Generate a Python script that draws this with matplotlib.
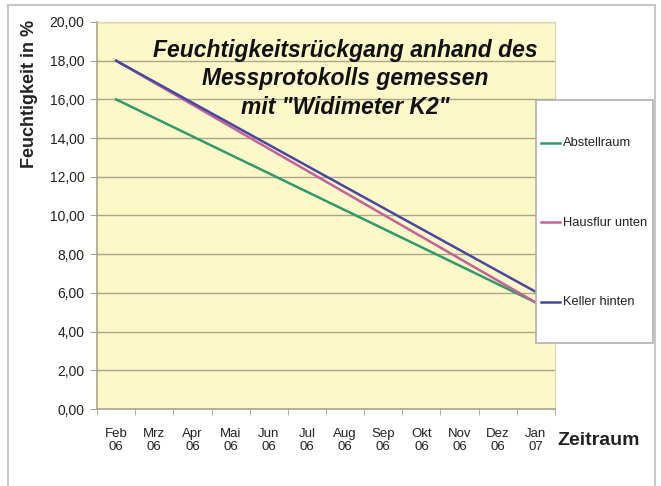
import numpy as np
import matplotlib.pyplot as plt
from matplotlib.patches import Rectangle
from matplotlib.lines import Line2D

plt.rcParams['font.family'] = ['Liberation Sans', 'DejaVu Sans']

# Daten (Messwerte nur am Anfang und Ende vorhanden)
monate = ["Feb\n06", "Mrz\n06", "Apr\n06", "Mai\n06", "Jun\n06", "Jul\n06",
          "Aug\n06", "Sep\n06", "Okt\n06", "Nov\n06", "Dez\n06", "Jan\n07"]
abstellraum = [16.0, None, None, None, None, None, None, None, None, None, None, 5.5]
hausflur = [18.0, None, None, None, None, None, None, None, None, None, None, 5.5]
keller = [18.0, None, None, None, None, None, None, None, None, None, None, 6.05]

serien = [("Abstellraum", abstellraum, "#2f9a6c"),
          ("Hausflur unten", hausflur, "#c4619b"),
          ("Keller hinten", keller, "#4747a3")]

fig = plt.figure(figsize=(6.61, 4.86), dpi=100)

# äußerer Rahmen
fig.patches.append(Rectangle((8 / 661, -0.05), 647 / 661, 1.04, transform=fig.transFigure,
                             fill=False, edgecolor="#c8c8c8", lw=1.5))

ax = fig.add_axes([97 / 661, 1 - 409 / 486, 458 / 661, 387 / 486])
ax.set_facecolor("#fdf8c8")

x = np.arange(len(monate))
for name, werte, farbe in serien:
    w = np.array([np.nan if v is None else v for v in werte], dtype=float)
    ok = ~np.isnan(w)
    ax.plot(x[ok], w[ok], color=farbe, lw=1.8, label=name, zorder=3)

ax.set_xlim(-0.5, len(monate) - 0.5)
ax.set_ylim(0, 20)
ax.set_yticks(np.arange(0, 21, 2))
ax.set_yticklabels([f"{v:.2f}".replace(".", ",") for v in np.arange(0, 21, 2)])
ax.set_xticks(x)
ax.set_xticklabels(monate, linespacing=1.1)
ax.set_xticks(np.arange(-0.5, len(monate)), minor=True)
ax.tick_params(axis="x", which="major", length=0, pad=14, labelsize=9.5, colors="#222222")
ax.tick_params(axis="x", which="minor", length=4, color="#a8a48c", direction="out")
ax.tick_params(axis="y", length=5, color="#a8a48c", pad=4, labelsize=10, colors="#222222")
ax.tick_params(axis="y", colors="#a8a48c", labelcolor="#222222")
ax.grid(axis="y", color="#aaa68a", lw=1.0)
ax.set_axisbelow(True)
for s in ["left", "bottom"]:
    ax.spines[s].set_color("#a8a48c")
    ax.spines[s].set_linewidth(1.2)
for s in ["top", "right"]:
    ax.spines[s].set_color("#d8d4b0")
    ax.spines[s].set_linewidth(0.8)

# Titel
ax.text(345 / 661, 1 - 79 / 486, 'Feuchtigkeitsrückgang anhand des\nMessprotokolls gemessen\nmit "Widimeter K2"',
        transform=fig.transFigure, ha="center", va="center", fontsize=16.5,
        fontweight="bold", fontstyle="italic", linespacing=1.31, color="#111111")

fig.text(30 / 661, 1 - 94 / 486, "Feuchtigkeit in %", rotation=90, ha="center", va="center",
         fontsize=13, fontweight="bold", color="#222222")
fig.text(557 / 661, 1 - 440 / 486, "Zeitraum", ha="left", va="center",
         fontsize=14, fontweight="bold", color="#222222")

# Legende
fig.patches.append(Rectangle((536 / 661, 1 - 343 / 486), 117 / 661, 243 / 486,
                             transform=fig.transFigure, facecolor="white",
                             edgecolor="#b0b0b0", lw=1.2, zorder=5))
for i, (name, werte, farbe) in enumerate(serien):
    yy = 1 - (143 + i * 79.5) / 486
    fig.lines.append(Line2D([541 / 661, 560 / 661], [yy, yy], transform=fig.transFigure,
                            color=farbe, lw=1.8, zorder=6))
    fig.text(563 / 661, yy, name, ha="left", va="center", fontsize=9.3,
             color="#222222", zorder=6)

fig.savefig("out.png", dpi=100)
